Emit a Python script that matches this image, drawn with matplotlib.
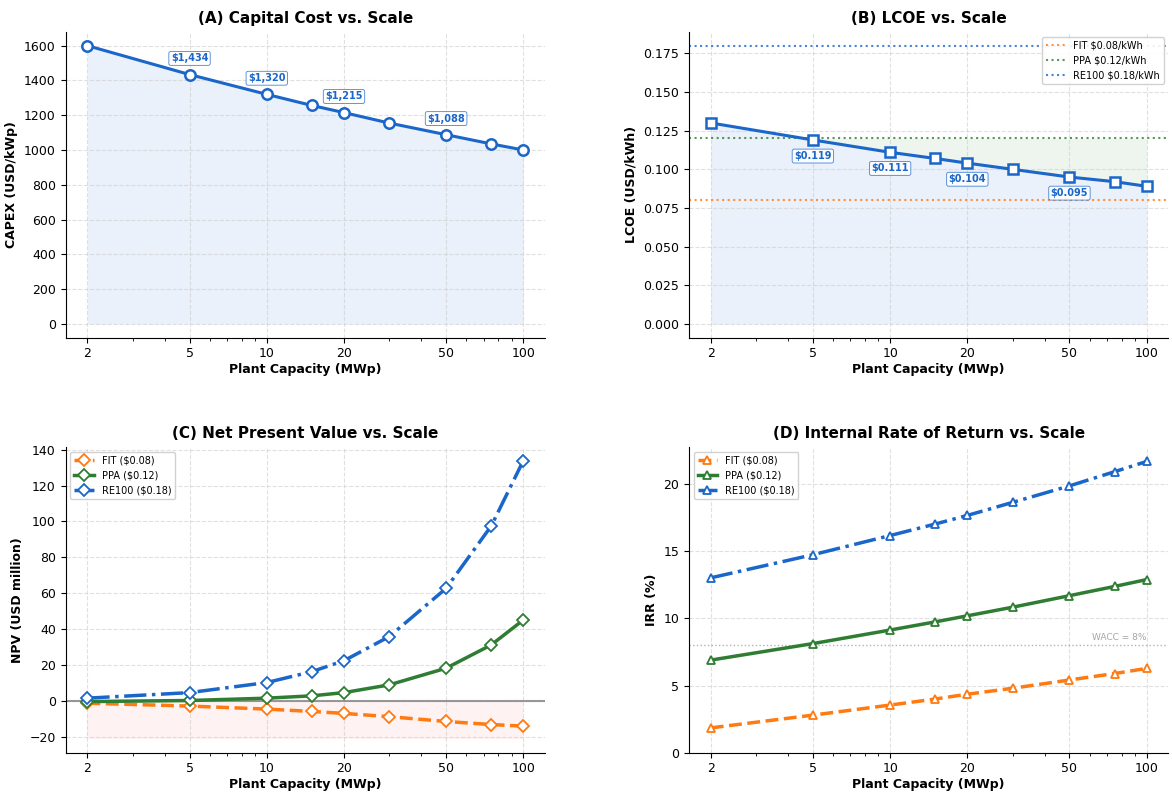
import numpy as np
import matplotlib
matplotlib.use("Agg")
import matplotlib.pyplot as plt
from matplotlib.ticker import ScalarFormatter, NullFormatter

# capacities (MWp)
capacity = [2, 5, 10, 15, 20, 30, 50, 75, 100]

# (A) capex USD/kWp
capex = [1600, 1434, 1320, 1256, 1215, 1155, 1088, 1035, 1000]
# (B) LCOE USD/kWh
lcoe = [0.130, 0.119, 0.111, 0.107, 0.104, 0.100, 0.095, 0.092, 0.089]
# (C) NPV USD million
npv_fit = [-1.3, -2.9, -4.6, -5.9, -7.0, -8.8, -11.5, -13.2, -14.1]
npv_ppa = [-0.4, 0.2, 1.5, 2.8, 4.6, 8.9, 18.2, 31.2, 45.1]
npv_re100 = [1.5, 4.6, 10.2, 16.3, 22.4, 35.8, 62.7, 97.5, 133.9]
# (D) IRR %
irr_fit = [1.85, 2.8, 3.55, 4.0, 4.36, 4.8, 5.42, 5.9, 6.28]
irr_ppa = [6.9, 8.13, 9.14, 9.75, 10.2, 10.84, 11.7, 12.39, 12.9]
irr_re100 = [13.03, 14.75, 16.18, 17.04, 17.68, 18.65, 19.88, 20.94, 21.7]

tariffs = {"FIT": 0.08, "PPA": 0.12, "RE100": 0.18}
wacc = 8
label_idx = [1, 2, 4, 6]
xticks = [2, 5, 10, 20, 50, 100]

BLUE = "#1a66c9"
ORANGE = "#ff7a10"
GREEN = "#2e7d32"

plt.rcParams['font.family'] = 'DejaVu Sans'
plt.rcParams['axes.spines.top'] = False
plt.rcParams['axes.spines.right'] = False

fig, axs = plt.subplots(2, 2, figsize=(11.72, 7.94), dpi=100)
fig.subplots_adjust(left=0.056, right=0.997, top=0.960, bottom=0.052, wspace=0.30, hspace=0.356)

def style(ax, title, ylabel):
    ax.set_xscale('log')
    ax.set_xticks(xticks)
    ax.xaxis.set_major_formatter(ScalarFormatter())
    ax.xaxis.set_minor_formatter(NullFormatter())
    ax.set_title(title, fontsize=11, fontweight='bold')
    ax.set_xlabel("Plant Capacity (MWp)", fontsize=9, fontweight='bold', labelpad=2)
    ax.set_ylabel(ylabel, fontsize=9, fontweight='bold')
    ax.tick_params(labelsize=9)
    ax.grid(True, which='major', linestyle='--', color='#cccccc', alpha=0.6, linewidth=0.8)

# (A)
ax = axs[0, 0]
ax.fill_between(capacity, capex, 0, color=BLUE, alpha=0.09, linewidth=0)
ax.plot(capacity, capex, '-o', color=BLUE, lw=2.2, ms=7.5, mfc='white', mew=1.8)
for i in label_idx:
    ax.annotate(f"${capex[i]:,}", (capacity[i], capex[i]), xytext=(0, 8), textcoords='offset points',
                ha='center', va='bottom', fontsize=7, fontweight='bold', color=BLUE,
                bbox=dict(boxstyle='round,pad=0.2', fc='white', ec=BLUE, lw=0.6, alpha=0.8))
style(ax, "(A) Capital Cost vs. Scale", "CAPEX (USD/kWp)")
ax.set_yticks(range(0, 1601, 200))

# (B)
ax = axs[0, 1]
ax.fill_between(capacity, lcoe, 0, color=BLUE, alpha=0.09, linewidth=0)
ax.fill_between(capacity, lcoe, tariffs["PPA"], where=np.array(lcoe) <= tariffs["PPA"],
                interpolate=True, color=GREEN, alpha=0.08, linewidth=0)
ax.axhline(tariffs["FIT"], color=ORANGE, ls=':', lw=1.5, alpha=0.8, label="FIT $0.08/kWh")
ax.axhline(tariffs["PPA"], color=GREEN, ls=':', lw=1.5, alpha=0.8, label="PPA $0.12/kWh")
ax.axhline(tariffs["RE100"], color=BLUE, ls=':', lw=1.5, alpha=0.8, label="RE100 $0.18/kWh")
ax.plot(capacity, lcoe, '-s', color=BLUE, lw=2.2, ms=7.5, mfc='white', mew=1.8)
for i in label_idx:
    ax.annotate(f"${lcoe[i]:.3f}", (capacity[i], lcoe[i]), xytext=(0, -8), textcoords='offset points',
                ha='center', va='top', fontsize=7, fontweight='bold', color=BLUE,
                bbox=dict(boxstyle='round,pad=0.2', fc='white', ec=BLUE, lw=0.6, alpha=0.8))
style(ax, "(B) LCOE vs. Scale", "LCOE (USD/kWh)")
ax.set_ylim(-0.009, 0.189)
ax.legend(loc='upper right', fontsize=7, framealpha=0.9)

# (C)
ax = axs[1, 0]
ax.fill_between(capacity, min(npv_fit) * 1.5, 0, color='#ff9999', alpha=0.12, linewidth=0)
ax.axhline(0, color='gray', lw=1.5, alpha=0.8)
ax.plot(capacity, npv_fit, '--D', color=ORANGE, lw=2.5, ms=6, mfc='white', mew=1.3, label="FIT ($0.08)")
ax.plot(capacity, npv_ppa, '-D', color=GREEN, lw=2.5, ms=6, mfc='white', mew=1.3, label="PPA ($0.12)")
ax.plot(capacity, npv_re100, '-.D', color=BLUE, lw=2.5, ms=6, mfc='white', mew=1.3, label="RE100 ($0.18)")
style(ax, "(C) Net Present Value vs. Scale", "NPV (USD million)")
ax.legend(loc='upper left', fontsize=7, framealpha=0.9)

# (D)
ax = axs[1, 1]
ax.axhline(wacc, color='gray', ls=':', lw=1, alpha=0.6)
ax.text(100, wacc + 0.25, "WACC = 8%", ha='right', va='bottom', fontsize=6.5, color='gray', alpha=0.7)
ax.plot(capacity, irr_fit, '--^', color=ORANGE, lw=2.5, ms=6, mfc='white', mew=1.3, label="FIT ($0.08)")
ax.plot(capacity, irr_ppa, '-^', color=GREEN, lw=2.5, ms=6, mfc='white', mew=1.3, label="PPA ($0.12)")
ax.plot(capacity, irr_re100, '-.^', color=BLUE, lw=2.5, ms=6, mfc='white', mew=1.3, label="RE100 ($0.18)")
style(ax, "(D) Internal Rate of Return vs. Scale", "IRR (%)")
ax.set_ylim(0, 22.8)
ax.legend(loc='upper left', fontsize=7, framealpha=0.9)

fig.savefig("out.png", dpi=100)
